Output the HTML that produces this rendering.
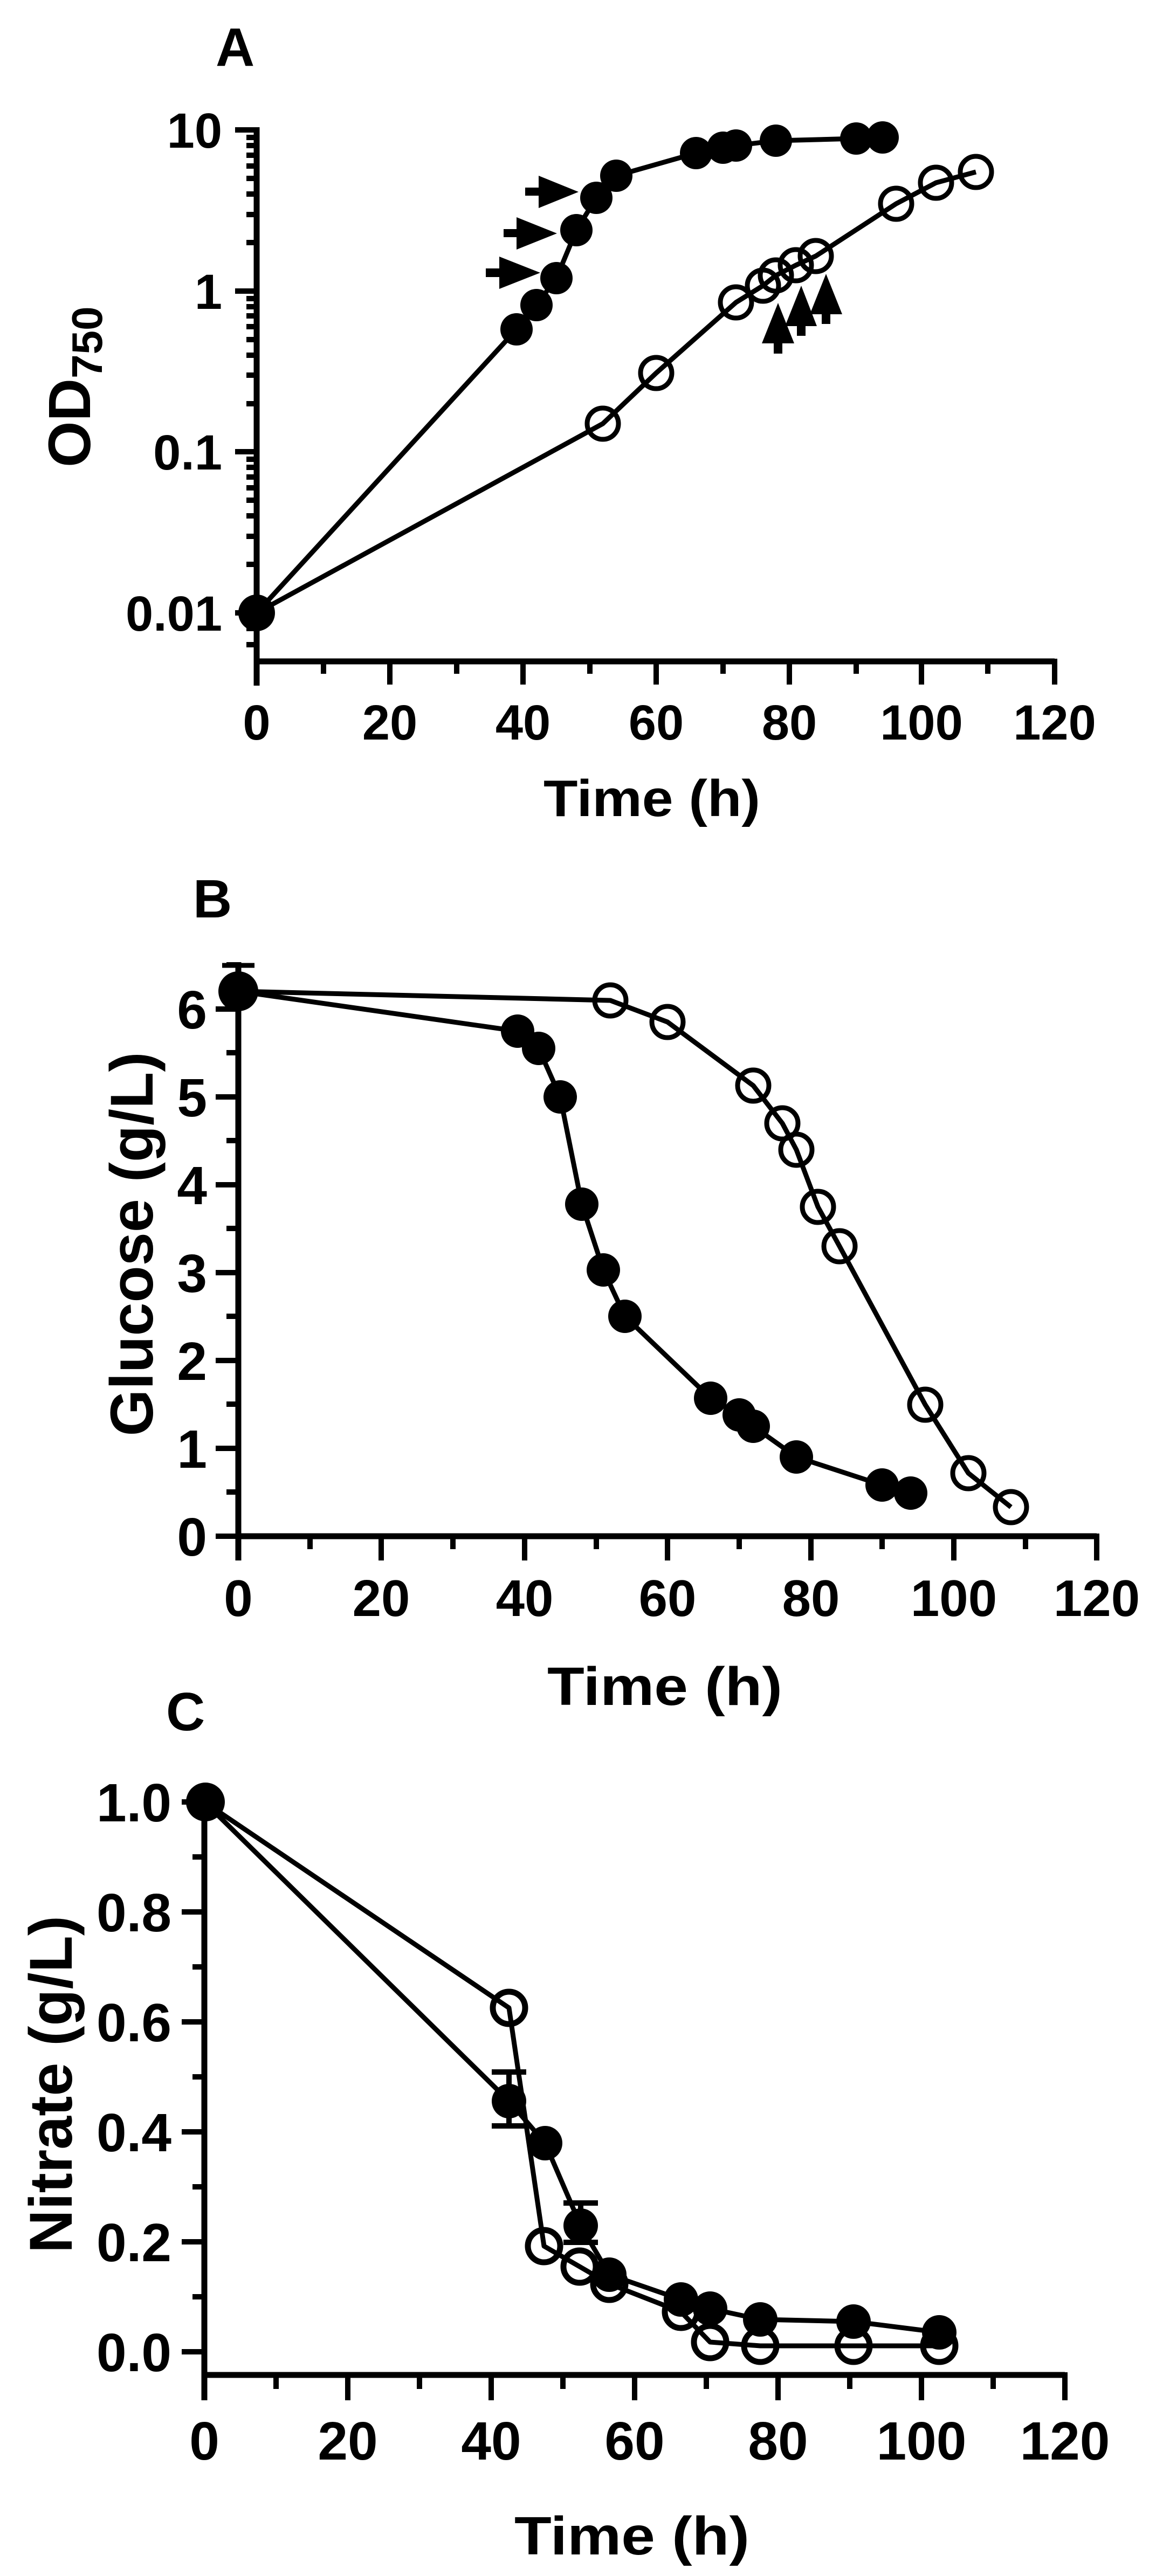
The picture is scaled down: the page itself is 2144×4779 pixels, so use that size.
<!DOCTYPE html>
<html><head><meta charset="utf-8"><style>
html,body{margin:0;padding:0;background:#fff;}
svg{display:block;}
text{font-family:"Liberation Sans",Arial,sans-serif;font-weight:bold;fill:#000;}
</style></head><body>
<svg width="2144" height="4779" viewBox="0 0 2144 4779" xmlns="http://www.w3.org/2000/svg">
<rect width="2144" height="4779" fill="#fff"/>

<!-- ================= PANEL A ================= -->
<text x="400" y="122" font-size="100">A</text>
<g stroke="#000" stroke-width="11" fill="none">
  <line x1="476" y1="236" x2="476" y2="1272"/>
  <line x1="471" y1="1227" x2="1956" y2="1227"/>
</g>
<g stroke="#000" stroke-width="10">
  <line x1="436" y1="241" x2="476" y2="241"/>
  <line x1="436" y1="540" x2="476" y2="540"/>
  <line x1="436" y1="838" x2="476" y2="838"/>
  <line x1="436" y1="1137" x2="476" y2="1137"/>
  <line x1="457" y1="255" x2="476" y2="255"/><line x1="457" y1="270" x2="476" y2="270"/><line x1="457" y1="288" x2="476" y2="288"/><line x1="457" y1="308" x2="476" y2="308"/><line x1="457" y1="331" x2="476" y2="331"/><line x1="457" y1="360" x2="476" y2="360"/><line x1="457" y1="398" x2="476" y2="398"/><line x1="457" y1="450" x2="476" y2="450"/>
  <line x1="457" y1="554" x2="476" y2="554"/><line x1="457" y1="569" x2="476" y2="569"/><line x1="457" y1="586" x2="476" y2="586"/><line x1="457" y1="606" x2="476" y2="606"/><line x1="457" y1="630" x2="476" y2="630"/><line x1="457" y1="659" x2="476" y2="659"/><line x1="457" y1="696" x2="476" y2="696"/><line x1="457" y1="749" x2="476" y2="749"/>
  <line x1="457" y1="852" x2="476" y2="852"/><line x1="457" y1="867" x2="476" y2="867"/><line x1="457" y1="885" x2="476" y2="885"/><line x1="457" y1="905" x2="476" y2="905"/><line x1="457" y1="928" x2="476" y2="928"/><line x1="457" y1="957" x2="476" y2="957"/><line x1="457" y1="995" x2="476" y2="995"/><line x1="457" y1="1047" x2="476" y2="1047"/>
  <line x1="457" y1="1166" x2="476" y2="1166"/><line x1="457" y1="1196" x2="476" y2="1196"/>
  <line x1="723" y1="1227" x2="723" y2="1270"/><line x1="970" y1="1227" x2="970" y2="1270"/><line x1="1217" y1="1227" x2="1217" y2="1270"/><line x1="1464" y1="1227" x2="1464" y2="1270"/><line x1="1709" y1="1227" x2="1709" y2="1270"/><line x1="1956" y1="1222" x2="1956" y2="1270"/>
  <line x1="600" y1="1227" x2="600" y2="1250"/><line x1="847" y1="1227" x2="847" y2="1250"/><line x1="1094" y1="1227" x2="1094" y2="1250"/><line x1="1341" y1="1227" x2="1341" y2="1250"/><line x1="1588" y1="1227" x2="1588" y2="1250"/><line x1="1832" y1="1227" x2="1832" y2="1250"/>
</g>
<g font-size="92" text-anchor="end">
  <text x="412" y="274">10</text>
  <text x="412" y="573">1</text>
  <text x="412" y="871">0.1</text>
  <text x="412" y="1170">0.01</text>
</g>
<g font-size="92" text-anchor="middle">
  <text x="476" y="1372">0</text><text x="723" y="1372">20</text><text x="970" y="1372">40</text><text x="1217" y="1372">60</text><text x="1464" y="1372">80</text><text x="1709" y="1372">100</text><text x="1956" y="1372">120</text>
</g>
<text x="1209" y="1514" font-size="96" text-anchor="middle" textLength="402" lengthAdjust="spacingAndGlyphs">Time (h)</text>
<text transform="translate(167,867) rotate(-90)" font-size="110">OD<tspan font-size="80" dy="22">750</tspan></text>

<g stroke="#000" stroke-width="9" fill="none" stroke-linejoin="round">
  <polyline points="476,1137 958,611 995,566 1032,516 1069,427 1106,367 1143,326 1291,284 1341,274 1365,270 1439,261 1588,257 1637,255"/>
  <polyline points="476,1137 1118,786 1217,692 1365,561 1415,530 1439,511 1476,492 1513,475 1662,378 1736,339 1810,319"/>
</g>
<g fill="none" stroke="#000" stroke-width="9">
  <circle cx="1118" cy="786" r="29"/><circle cx="1217" cy="692" r="29"/><circle cx="1365" cy="561" r="29"/><circle cx="1415" cy="530" r="29"/><circle cx="1439" cy="511" r="29"/><circle cx="1476" cy="492" r="29"/><circle cx="1513" cy="475" r="29"/><circle cx="1662" cy="378" r="29"/><circle cx="1736" cy="339" r="29"/><circle cx="1810" cy="319" r="29"/>
</g>
<g fill="#000">
  <circle cx="476" cy="1137" r="34"/>
  <circle cx="958" cy="611" r="30"/><circle cx="995" cy="566" r="30"/><circle cx="1032" cy="516" r="30"/><circle cx="1069" cy="427" r="30"/><circle cx="1106" cy="367" r="30"/><circle cx="1143" cy="326" r="30"/><circle cx="1291" cy="284" r="30"/><circle cx="1341" cy="274" r="30"/><circle cx="1365" cy="270" r="30"/><circle cx="1439" cy="261" r="30"/><circle cx="1588" cy="257" r="30"/><circle cx="1637" cy="255" r="30"/>
  <polygon points="974,348 999,348 999,326 1073,356 999,386 999,363 974,363"/>
  <polygon points="934,425 958,425 958,403 1033,433 958,463 958,440 934,440"/>
  <polygon points="901,498 926,498 926,476 1002,506 926,536 926,514 901,514"/>
  <polygon points="1443,562 1473,637 1451,637 1451,656 1435,656 1435,637 1413,637"/>
  <polygon points="1486,530 1515,605 1494,605 1494,623 1478,623 1478,605 1456,605"/>
  <polygon points="1532,508 1562,583 1540,583 1540,601 1524,601 1524,583 1502,583"/>
</g>

<!-- ================= PANEL B ================= -->
<text x="358" y="1702" font-size="100">B</text>
<g stroke="#000" stroke-width="11" fill="none">
  <line x1="442" y1="1785" x2="442" y2="2895"/>
  <line x1="437" y1="2850" x2="2034" y2="2850"/>
</g>
<g stroke="#000" stroke-width="10">
  <line x1="400" y1="2850" x2="442" y2="2850"/><line x1="400" y1="2687" x2="442" y2="2687"/><line x1="400" y1="2524" x2="442" y2="2524"/><line x1="400" y1="2361" x2="442" y2="2361"/><line x1="400" y1="2198" x2="442" y2="2198"/><line x1="400" y1="2035" x2="442" y2="2035"/><line x1="400" y1="1872" x2="442" y2="1872"/>
  <line x1="420" y1="2768" x2="442" y2="2768"/><line x1="420" y1="2605" x2="442" y2="2605"/><line x1="420" y1="2442" x2="442" y2="2442"/><line x1="420" y1="2279" x2="442" y2="2279"/><line x1="420" y1="2116" x2="442" y2="2116"/><line x1="420" y1="1953" x2="442" y2="1953"/><line x1="420" y1="1790" x2="442" y2="1790"/>
  <line x1="707" y1="2850" x2="707" y2="2895"/><line x1="973" y1="2850" x2="973" y2="2895"/><line x1="1238" y1="2850" x2="1238" y2="2895"/><line x1="1504" y1="2850" x2="1504" y2="2895"/><line x1="1769" y1="2850" x2="1769" y2="2895"/><line x1="2034" y1="2845" x2="2034" y2="2895"/>
  <line x1="575" y1="2850" x2="575" y2="2874"/><line x1="840" y1="2850" x2="840" y2="2874"/><line x1="1106" y1="2850" x2="1106" y2="2874"/><line x1="1371" y1="2850" x2="1371" y2="2874"/><line x1="1636" y1="2850" x2="1636" y2="2874"/><line x1="1902" y1="2850" x2="1902" y2="2874"/>
</g>
<g font-size="100" text-anchor="end">
  <text x="384" y="2886">0</text><text x="384" y="2723">1</text><text x="384" y="2560">2</text><text x="384" y="2397">3</text><text x="384" y="2234">4</text><text x="384" y="2071">5</text><text x="384" y="1908">6</text>
</g>
<g font-size="96" text-anchor="middle">
  <text x="442" y="2998">0</text><text x="707" y="2998">20</text><text x="973" y="2998">40</text><text x="1238" y="2998">60</text><text x="1504" y="2998">80</text><text x="1769" y="2998">100</text><text x="2034" y="2998">120</text>
</g>
<text x="1233" y="3163" font-size="100" text-anchor="middle" textLength="436" lengthAdjust="spacingAndGlyphs">Time (h)</text>
<text transform="translate(283,2308) rotate(-90)" font-size="112" text-anchor="middle" textLength="713" lengthAdjust="spacingAndGlyphs">Glucose (g/L)</text>

<g stroke="#000" stroke-width="9" fill="none" stroke-linejoin="round">
  <line x1="442" y1="1791" x2="442" y2="1839"/><line x1="412" y1="1791" x2="472" y2="1791"/>
  <polyline points="442,1839 960,1913 999,1945 1039,2035 1079,2234 1119,2356 1159,2442 1318,2594 1371,2625 1397,2646 1477,2703 1636,2755 1689,2770"/>
  <polyline points="442,1839 1132,1856 1238,1896 1397,2014 1451,2084 1477,2133 1517,2239 1557,2312 1716,2606 1796,2733 1875,2796"/>
</g>
<g fill="none" stroke="#000" stroke-width="9">
  <circle cx="1132" cy="1856" r="29"/><circle cx="1238" cy="1896" r="29"/><circle cx="1397" cy="2014" r="29"/><circle cx="1451" cy="2084" r="29"/><circle cx="1477" cy="2133" r="29"/><circle cx="1517" cy="2239" r="29"/><circle cx="1557" cy="2312" r="29"/><circle cx="1716" cy="2606" r="29"/><circle cx="1796" cy="2733" r="29"/><circle cx="1875" cy="2796" r="29"/>
</g>
<g fill="#000">
  <circle cx="442" cy="1839" r="37"/>
  <circle cx="960" cy="1913" r="31"/><circle cx="999" cy="1945" r="31"/><circle cx="1039" cy="2035" r="31"/><circle cx="1079" cy="2234" r="31"/><circle cx="1119" cy="2356" r="31"/><circle cx="1159" cy="2442" r="31"/><circle cx="1318" cy="2594" r="31"/><circle cx="1371" cy="2625" r="31"/><circle cx="1397" cy="2646" r="31"/><circle cx="1477" cy="2703" r="31"/><circle cx="1636" cy="2755" r="31"/><circle cx="1689" cy="2770" r="31"/>
</g>

<!-- ================= PANEL C ================= -->
<text x="308" y="3210" font-size="100">C</text>
<g stroke="#000" stroke-width="11" fill="none">
  <line x1="379" y1="3335" x2="379" y2="4453"/>
  <line x1="374" y1="4406" x2="1975" y2="4406"/>
</g>
<g stroke="#000" stroke-width="10">
  <line x1="337" y1="4363" x2="379" y2="4363"/><line x1="337" y1="4159" x2="379" y2="4159"/><line x1="337" y1="3955" x2="379" y2="3955"/><line x1="337" y1="3751" x2="379" y2="3751"/><line x1="337" y1="3547" x2="379" y2="3547"/><line x1="337" y1="3343" x2="379" y2="3343"/>
  <line x1="357" y1="4261" x2="379" y2="4261"/><line x1="357" y1="4057" x2="379" y2="4057"/><line x1="357" y1="3853" x2="379" y2="3853"/><line x1="357" y1="3649" x2="379" y2="3649"/><line x1="357" y1="3445" x2="379" y2="3445"/>
  <line x1="645" y1="4406" x2="645" y2="4453"/><line x1="911" y1="4406" x2="911" y2="4453"/><line x1="1177" y1="4406" x2="1177" y2="4453"/><line x1="1443" y1="4406" x2="1443" y2="4453"/><line x1="1709" y1="4406" x2="1709" y2="4453"/><line x1="1975" y1="4401" x2="1975" y2="4453"/>
  <line x1="512" y1="4406" x2="512" y2="4432"/><line x1="778" y1="4406" x2="778" y2="4432"/><line x1="1044" y1="4406" x2="1044" y2="4432"/><line x1="1310" y1="4406" x2="1310" y2="4432"/><line x1="1576" y1="4406" x2="1576" y2="4432"/><line x1="1842" y1="4406" x2="1842" y2="4432"/>
</g>
<g font-size="100" text-anchor="end">
  <text x="318" y="4399">0.0</text><text x="318" y="4195">0.2</text><text x="318" y="3991">0.4</text><text x="318" y="3787">0.6</text><text x="318" y="3583">0.8</text><text x="318" y="3379">1.0</text>
</g>
<g font-size="100" text-anchor="middle">
  <text x="379" y="4563">0</text><text x="645" y="4563">20</text><text x="911" y="4563">40</text><text x="1177" y="4563">60</text><text x="1443" y="4563">80</text><text x="1709" y="4563">100</text><text x="1975" y="4563">120</text>
</g>
<text x="1172" y="4739" font-size="100" text-anchor="middle" textLength="436" lengthAdjust="spacingAndGlyphs">Time (h)</text>
<text transform="translate(133,3867) rotate(-90)" font-size="112" text-anchor="middle" textLength="626" lengthAdjust="spacingAndGlyphs">Nitrate (g/L)</text>

<g stroke="#000" stroke-width="10" fill="none">
  <line x1="944" y1="3844" x2="944" y2="3944"/><line x1="912" y1="3844" x2="976" y2="3844"/><line x1="912" y1="3944" x2="976" y2="3944"/>
  <line x1="1077" y1="4087" x2="1077" y2="4160"/><line x1="1045" y1="4087" x2="1109" y2="4087"/><line x1="1045" y1="4160" x2="1109" y2="4160"/>
</g>
<g stroke="#000" stroke-width="9" fill="none" stroke-linejoin="round">
  <polyline points="379,3343 944,3898 1011,3976 1077,4129 1130,4220 1263,4266 1317,4283 1410,4303 1583,4307 1742,4327"/>
  <polyline points="379,3343 944,3725 1009,4167 1075,4205 1130,4237 1263,4289 1317,4345 1410,4352 1583,4352 1742,4352"/>
</g>
<g fill="none" stroke="#000" stroke-width="11">
  <circle cx="944" cy="3725" r="30"/><circle cx="1009" cy="4167" r="30"/><circle cx="1075" cy="4205" r="30"/><circle cx="1130" cy="4237" r="30"/><circle cx="1263" cy="4289" r="30"/><circle cx="1317" cy="4345" r="30"/><circle cx="1410" cy="4352" r="30"/><circle cx="1583" cy="4352" r="30"/><circle cx="1742" cy="4352" r="30"/>
</g>
<g fill="#000">
  <circle cx="381" cy="3343" r="36"/>
  <circle cx="944" cy="3898" r="32"/><circle cx="1011" cy="3976" r="32"/><circle cx="1077" cy="4129" r="32"/><circle cx="1130" cy="4220" r="32"/><circle cx="1263" cy="4266" r="32"/><circle cx="1317" cy="4283" r="32"/><circle cx="1410" cy="4303" r="32"/><circle cx="1583" cy="4307" r="32"/><circle cx="1742" cy="4327" r="32"/>
</g>
</svg>
</body></html>
